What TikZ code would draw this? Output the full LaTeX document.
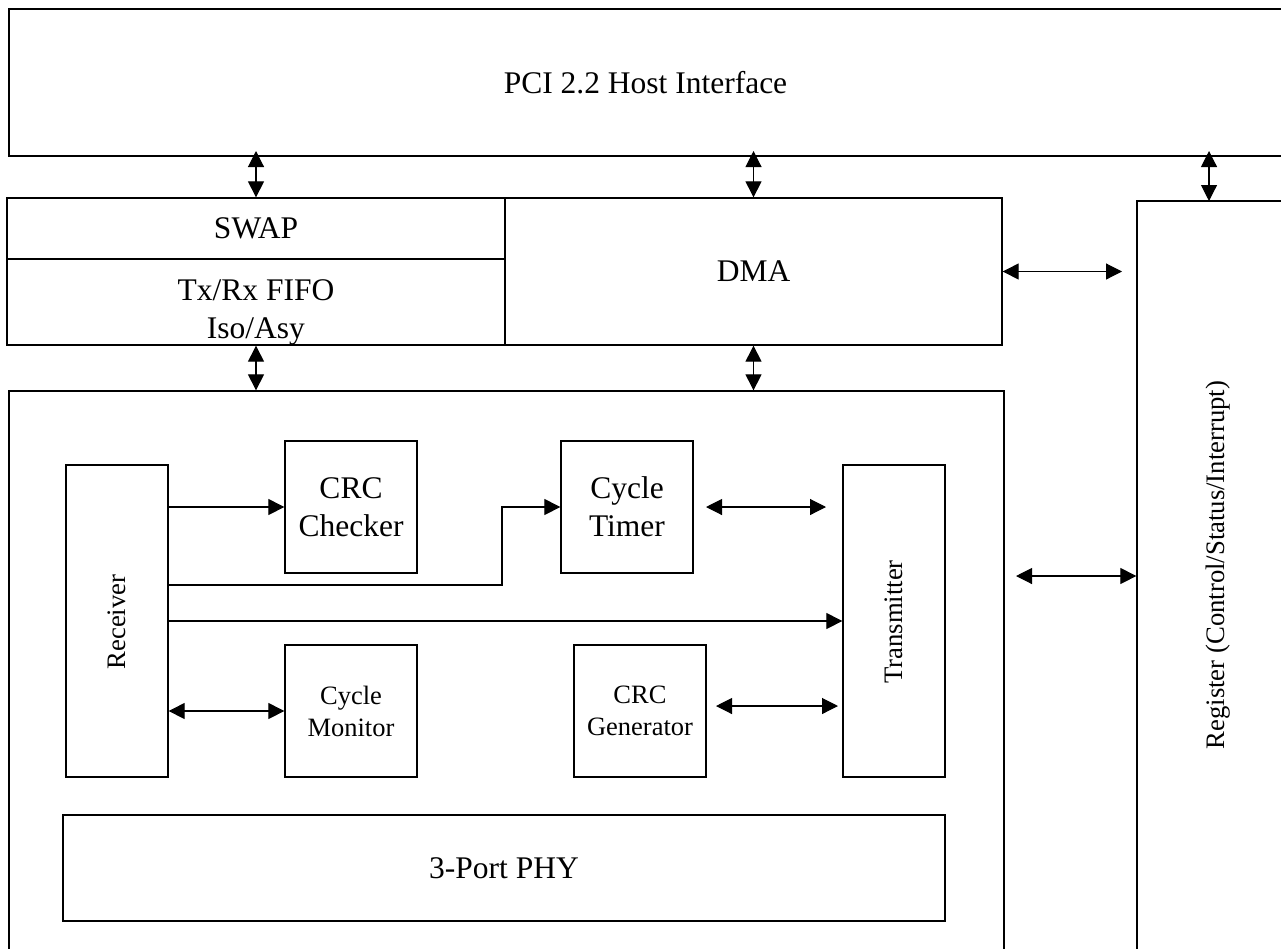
\documentclass[tikz,border=0pt]{standalone}
\usepackage{fontspec}
\setmainfont{Liberation Serif}
\usetikzlibrary{arrows.meta}
\begin{document}
\begin{tikzpicture}[x=1pt,y=-1pt,
  box/.style={draw, line width=1.3pt, inner sep=0pt, align=center,
    font=\fontsize{31.5}{38}\selectfont},
  sbox/.style={box, font=\fontsize{26.5}{32}\selectfont},
  lbl/.style={inner sep=0pt, align=center, font=\fontsize{31.5}{38}\selectfont},
  slbl/.style={inner sep=0pt, align=center, font=\fontsize{26.7}{32}\selectfont},
  tip/.tip={Triangle[length=16pt,width=16pt]},
  uni/.style={line width=1.1pt, -tip},
  bi/.style={line width=1.1pt, tip-tip}]
\useasboundingbox (0,0) rectangle (1281,948);
\clip (0,0) rectangle (1281,948);
\fill[white] (0,0) rectangle (1281,948);

% outer blocks
\node[box, minimum width=1273pt, minimum height=147pt] (pci) at (645.5,82.5) {PCI 2.2 Host Interface};
\node[box, minimum width=498pt, minimum height=61pt] (swap) at (256,228.5) {SWAP};
\node[box, minimum width=498pt, minimum height=86pt] (fifo) at (256,302) {};
\node[lbl] (fifot) at (256,312) {Tx/Rx FIFO\\Iso/Asy};
\node[box, minimum width=497pt, minimum height=147pt] (dma) at (753.5,271.5) {DMA};
\node[box, minimum width=162pt, minimum height=759pt] (reg) at (1218,580.5) {};
\node[slbl, rotate=90] (regt) at (1218,565) {Register (Control/Status/Interrupt)};
\node[box, minimum width=995pt, minimum height=569pt] (core) at (506.5,675.5) {};

% inner blocks
\node[box, minimum width=102pt, minimum height=312pt] (rx) at (117,621) {};
\node[slbl, rotate=90] (rxt) at (117,622) {Receiver};
\node[box, minimum width=102pt, minimum height=312pt] (tx) at (894,621) {};
\node[slbl, rotate=90] (txt) at (894,622) {Transmitter};
\node[box, minimum width=132pt, minimum height=132pt] (chk) at (351,507) {CRC\\Checker};
\node[box, minimum width=132pt, minimum height=132pt] (tmr) at (627,507) {Cycle\\Timer};
\node[sbox, minimum width=132pt, minimum height=132pt] (mon) at (351,711) {Cycle\\Monitor};
\node[sbox, minimum width=132pt, minimum height=132pt] (gen) at (640,711) {CRC\\Generator};
\node[box, minimum width=882pt, minimum height=106pt] (phy) at (504,868) {3-Port PHY};

% helper coordinates
\coordinate (pcitip) at (0,151);
\coordinate (regtop) at (1209,201);
\coordinate (dmaend) at (1122,271.5);
\coordinate (corereg) at (1016,576);
\coordinate (bend) at (502,585);
\coordinate (tmra) at (706,507);
\coordinate (tmrb) at (826,507);
\coordinate (gena) at (716,706);
\coordinate (genb) at (838,706);

% connectors between outer blocks
\draw[bi] (swap.north) -- (swap.north |- pcitip);
\draw[bi] (dma.north) -- (dma.north |- pcitip);
\draw[bi] (regtop) -- (regtop |- pcitip);
\draw[bi] (fifo.south) -- (fifo.south |- core.north);
\draw[bi] (dma.south) -- (dma.south |- core.north);
\draw[bi] (dma.east) -- (dmaend);
\draw[bi] (corereg) -- (corereg -| reg.west);

% connectors inside the core
\draw[uni] (rx.east |- chk.west) -- (chk.west);
\draw[uni] (rx.east |- bend) -- (bend) -- (bend |- tmr.west) -- (tmr.west);
\draw[uni] (rx.east) -- (tx.west);
\draw[bi] (tmra) -- (tmrb);
\draw[bi] (rx.east |- mon.west) -- (mon.west);
\draw[bi] (gena) -- (genb);
\end{tikzpicture}
\end{document}
